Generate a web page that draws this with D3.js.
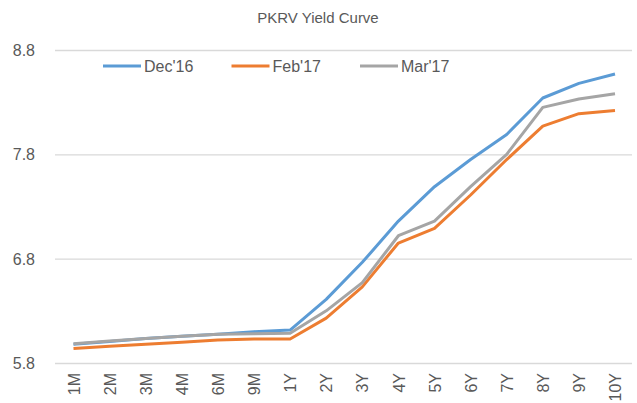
<!DOCTYPE html>
<html lang="en">
<head>
<meta charset="UTF-8">
<title>PKRV Yield Curve</title>
<script src="https://cdn.jsdelivr.net/npm/d3@7"></script>
<style>
  body { margin: 0; background: #fff; font-family: 'Liberation Sans', Arial, sans-serif; }
  .grid line { stroke: #d9d9d9; stroke-width: 1.3; }
  .tick text { fill: #595959; font-size: 16px; }
</style>
</head>
<body>
<div id="chart"></div>
<script>
// tenors on the x axis
const tenors = ['1M', '2M', '3M', '4M', '6M', '9M', '1Y', '2Y', '3Y', '4Y', '5Y', '6Y', '7Y', '8Y', '9Y', '10Y'];
const yTicks = [5.8, 6.8, 7.8, 8.8];

// yields
const dec16 = [5.98, 6.005, 6.035, 6.056, 6.075, 6.10, 6.116, 6.41, 6.765, 7.16, 7.49, 7.75, 7.99, 8.34, 8.48, 8.57];
const feb17 = [5.94, 5.96, 5.98, 5.998, 6.02, 6.03, 6.03, 6.23, 6.53, 6.95, 7.09, 7.41, 7.75, 8.07, 8.19, 8.22];
const mar17 = [5.985, 6.01, 6.035, 6.056, 6.075, 6.08, 6.085, 6.30, 6.57, 7.02, 7.16, 7.49, 7.80, 8.25, 8.33, 8.38];

const series = [
  { name: "Dec'16", values: dec16, color: '#5b9bd5' },
  { name: "Feb'17", values: feb17, color: '#ed7d31' },
  { name: "Mar'17", values: mar17, color: '#a5a5a5' }
];

const W = 637, H = 403;
const svg = d3.select('#chart').append('svg').attr('width', W).attr('height', H);

const x = d3.scalePoint().domain(tenors).range([73.5, 615]);
const y = d3.scaleLinear().domain([5.8, 8.8]).range([363, 50]);

// title
svg.append('text')
  .attr('x', 318).attr('y', 23)
  .attr('text-anchor', 'middle')
  .style('font-size', '15px').style('fill', '#595959')
  .text('PKRV Yield Curve');

// gridlines + y labels
const yAxis = svg.append('g').attr('class', 'grid')
  .attr('transform', 'translate(55,0)')
  .call(d3.axisLeft(y).tickValues(yTicks).tickSize(-577).tickFormat(d3.format('.1f')));
yAxis.select('.domain').remove();
yAxis.selectAll('.tick text').attr('x', -20).attr('dy', '0.35em');

// x labels, rotated
const xAxis = svg.append('g')
  .attr('transform', 'translate(0,363)')
  .call(d3.axisBottom(x).tickSize(0));
xAxis.select('.domain').remove();
xAxis.selectAll('.tick text')
  .attr('transform', 'rotate(-90)')
  .attr('text-anchor', 'end')
  .attr('x', -10).attr('y', 0).attr('dy', '0.35em');

// lines
const line = d3.line().x((d, i) => x(tenors[i])).y(d => y(d));
svg.selectAll('.series').data(series).enter().append('path')
  .attr('class', 'series')
  .attr('d', d => line(d.values))
  .attr('fill', 'none')
  .attr('stroke', d => d.color)
  .attr('stroke-width', 3)
  .attr('stroke-linejoin', 'round');

// legend
const legend = svg.selectAll('.legend').data(series).enter().append('g')
  .attr('class', 'legend')
  .attr('transform', (d, i) => `translate(${103 + i * 128.5},66)`);
legend.append('line')
  .attr('x1', 0).attr('x2', 38)
  .attr('stroke', d => d.color).attr('stroke-width', 3);
legend.append('text')
  .attr('x', 41).attr('dy', '0.35em')
  .style('font-size', '16px').style('fill', '#595959')
  .text(d => d.name);
</script>
</body>
</html>
